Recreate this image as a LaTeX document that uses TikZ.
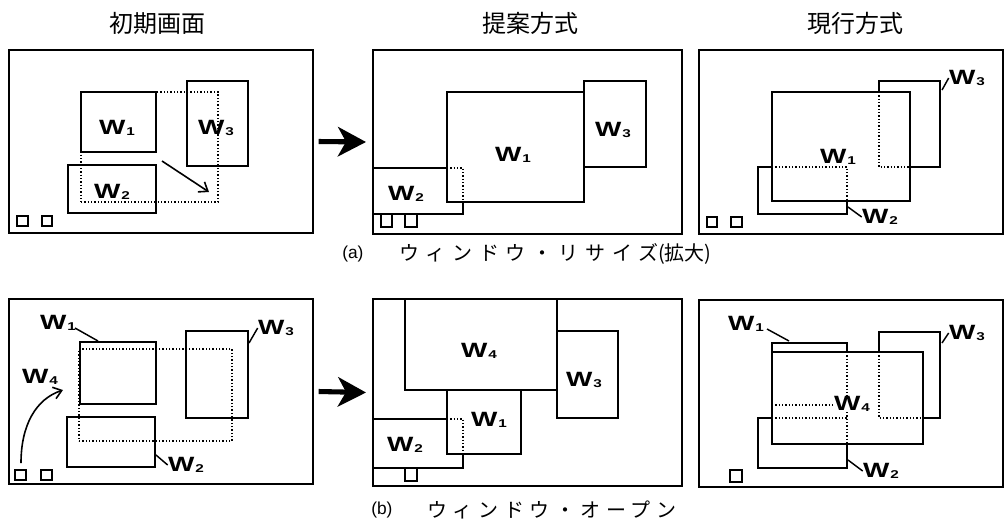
\documentclass[tikz,border=0pt]{standalone}
\usepackage{fontspec}
\setmainfont{Liberation Sans}
\newfontfamily\jp{Noto Sans CJK JP}
\usetikzlibrary{fit,arrows.meta}
\newcommand{\wlab}[1]{W\kern0.6pt\raisebox{-0.4pt}{\fontsize{8.5}{9}\selectfont #1}}
\begin{document}
\begin{tikzpicture}[x=0.75pt,y=-0.75pt,
  frame/.style={draw, line width=1.5pt, inner sep=0pt},
  win/.style={draw, fill=white, line width=2.1pt, inner sep=0pt},
  sq/.style={draw, fill=white, line width=1.5pt, inner sep=0pt},
  hid/.style={line width=0.9pt, dash pattern=on 0.9pt off 1.6pt},
  hidbox/.style={draw, line width=0.9pt, dash pattern=on 0.9pt off 1.6pt, inner sep=0pt},
  wl/.style={font=\bfseries\fontsize{15.5}{16}\selectfont, xscale=1.35, inner sep=0pt},
  leader/.style={line width=1.1pt},
  thinarrow/.style={line width=1.2pt, -{Straight Barb[length=6pt,width=9pt]}},
  bigarrow/.style={line width=3.8pt, -{Stealth[length=21pt,width=22pt,inset=6pt]}},
  title/.style={font=\jp\fontsize{18}{20}\selectfont, inner sep=0pt},
  captxt/.style={font=\fontsize{13}{15}\selectfont, inner sep=0pt, anchor=west},
  capjp/.style={font=\jp\fontsize{15}{16}\selectfont, inner sep=0pt, anchor=west}]
\useasboundingbox (0,0) rectangle (1006,526);

% titles
\node[title] (t1) at (157,23) {初期画面};
\node[title] (t2) at (530,23) {提案方式};
\node[title] (t3) at (855,23) {現行方式};

% ===== (a) initial =====
\node[frame, fit={(9,50)(313,233)}] (a1f) {};
\node[win, fit={(81,92)(156,152)}] (a1w1) {};
\node[win, fit={(187,81)(248,166)}] (a1w3) {};
\node[win, fit={(68,165)(156,213)}] (a1w2) {};
\node[sq, fit={(17,216)(28,226)}] (a1s1) {};
\node[sq, fit={(42,216)(52,226)}] (a1s2) {};
\node[hidbox, fit={(81,92)(218,202)}] (a1d) {};
\coordinate (a1as) at (162,161);
\coordinate (a1ae) at (209,192);
\draw[thinarrow] (a1as) -- (a1ae);
\node[wl] (a1l1) at (117,128) {\wlab{1}};
\node[wl] (a1l3) at (216,128) {\wlab{3}};
\node[wl] (a1l2) at (112,192) {\wlab{2}};

% ===== (a) proposed =====
\node[frame, fit={(373,50)(682,234)}] (a2f) {};
\node[sq, fit={(381,214)(392,227)}] (a2s1) {};
\node[sq, fit={(405,214)(417,227)}] (a2s2) {};
\node[win, fit={(373,168)(463,214)}] (a2w2) {};
\node[win, fit={(447,92)(584,202)}] (a2w1) {};
\node[win, fit={(584,81)(646,167)}] (a2w3) {};
\draw[hid] (447,168) -- (463,168) -- (463,202);
\node[wl] (a2l1) at (513,155) {\wlab{1}};
\node[wl] (a2l3) at (613,130) {\wlab{3}};
\node[wl] (a2l2) at (406,194) {\wlab{2}};

% ===== (a) current =====
\node[frame, fit={(699,50)(1003,234)}] (a3f) {};
\node[sq, fit={(707,217)(717,227)}] (a3s1) {};
\node[sq, fit={(731,217)(742,227)}] (a3s2) {};
\node[win, fit={(879,81)(940,167)}] (a3w3) {};
\node[win, fit={(758,167)(847,214)}] (a3w2) {};
\node[win, fit={(772,92)(910,201)}] (a3w1) {};
\draw[hid] (879,92) -- (879,167) -- (910,167);
\draw[hid] (772,167) -- (847,167) -- (847,201);
\node[wl] (a3l1) at (838,157) {\wlab{1}};
\node[wl] (a3l3) at (967,78) {\wlab{3}};
\node[wl] (a3l2) at (880,217) {\wlab{2}};
\coordinate (a3c3) at (942,90);
\coordinate (a3c2) at (848,207);
\draw[leader] (a3c3) -- (a3l3.west);
\draw[leader] (a3c2) -- (a3l2.west);

% big arrows
\draw[bigarrow] ([xshift=3.5pt]a1f.east) -- ([xshift=-4.5pt]a2f.west);

% caption (a)
\node[captxt] (capa) at (342,254) {(a)};
\node[capjp] (capaj) at (399,254) {{\addfontfeature{LetterSpace=33}ウィンドウ・リサイズ}(拡大)};

% ===== (b) initial =====
\node[frame, fit={(9,299)(313,484)}] (b1f) {};
\node[win, fit={(80,342)(156,404)}] (b1w1) {};
\node[win, fit={(186,331)(248,418)}] (b1w3) {};
\node[win, fit={(67,417)(155,467)}] (b1w2) {};
\node[sq, fit={(15,470)(26,480)}] (b1s1) {};
\node[sq, fit={(41,470)(52,480)}] (b1s2) {};
\node[hidbox, fit={(79,349)(232,441)}] (b1d) {};
\node[wl] (b1l1) at (58,323) {\wlab{1}};
\node[wl] (b1l3) at (276,328) {\wlab{3}};
\node[wl] (b1l2) at (186,465) {\wlab{2}};
\node[wl] (b1l4) at (40,377) {\wlab{4}};
\coordinate (b1c1) at (98,341);
\coordinate (b1c3) at (249,343);
\coordinate (b1c2) at (156,455);
\draw[leader] (b1c1) -- (75,328) coordinate (b1e1);
\draw[leader] (b1c3) -- (b1l3.west);
\draw[leader] (b1c2) -- (b1l2.west);
\coordinate (b1as) at (21,463);
\coordinate (b1ae) at (63,390);
\draw[thinarrow] (b1as) .. controls (21,425) and (36,399) .. (b1ae);

% ===== (b) proposed =====
\node[frame, fit={(373,299)(682,486)}] (b2f) {};
\node[sq, fit={(405,468)(417,481)}] (b2s1) {};
\node[win, fit={(373,419)(463,468)}] (b2w2) {};
\node[win, fit={(447,390)(521,454)}] (b2w1) {};
\node[win, fit={(405,299)(557,390)}] (b2w4) {};
\node[win, fit={(557,331)(618,418)}] (b2w3) {};
\draw[hid] (447,419) -- (463,419) -- (463,454);
\node[wl] (b2l4) at (479,351) {\wlab{4}};
\node[wl] (b2l3) at (584,380) {\wlab{3}};
\node[wl] (b2l1) at (489,420) {\wlab{1}};
\node[wl] (b2l2) at (405,445) {\wlab{2}};

% ===== (b) current =====
\node[frame, fit={(699,300)(1003,487)}] (b3f) {};
\node[sq, fit={(730,470)(742,482)}] (b3s1) {};
\node[win, fit={(772,343)(847,405)}] (b3w1) {};
\node[win, fit={(879,332)(940,418)}] (b3w3) {};
\node[win, fit={(758,418)(847,468)}] (b3w2) {};
\node[win, fit={(772,352)(923,444)}] (b3w4) {};
\draw[hid] (772,405) -- (847,405);
\draw[hid] (847,352) -- (847,444);
\draw[hid] (772,418) -- (847,418);
\draw[hid] (879,352) -- (879,418) -- (923,418);
\node[wl, fill=white, inner sep=0.8pt] (b3l4) at (852,404) {\wlab{4}};
\node[wl] (b3l1) at (746,324) {\wlab{1}};
\node[wl] (b3l3) at (967,333) {\wlab{3}};
\node[wl] (b3l2) at (881,471) {\wlab{2}};
\coordinate (b3c1) at (789,341);
\coordinate (b3c3) at (942,343);
\coordinate (b3c2) at (848,460);
\draw[leader] (b3c1) -- (767,329) coordinate (b3e1);
\draw[leader] (b3c3) -- (b3l3.west);
\draw[leader] (b3c2) -- (b3l2.west);

\draw[bigarrow] ([xshift=3.5pt]b1f.east) -- ([xshift=-4.5pt]b2f.west);

% caption (b)
\node[captxt] (capb) at (371,510) {(b)};
\node[capjp] (capbj) at (427,510) {{\addfontfeature{LetterSpace=28}ウィンドウ・オープン}};
\end{tikzpicture}
\end{document}
